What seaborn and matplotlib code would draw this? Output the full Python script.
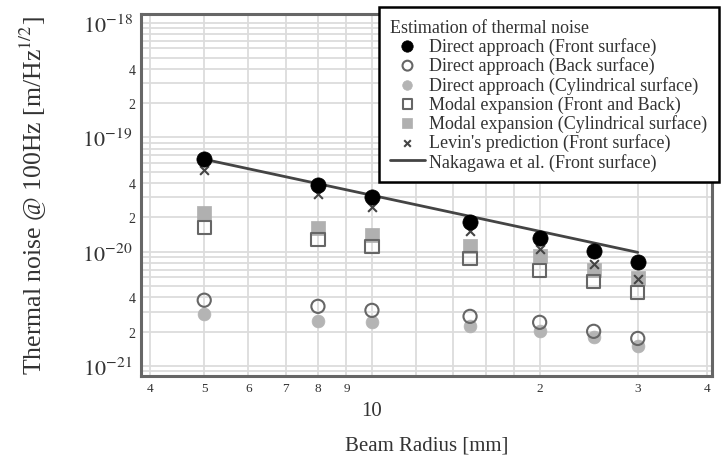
import matplotlib
matplotlib.use("Agg")
import matplotlib.pyplot as plt
import matplotlib.transforms as mtransforms
from matplotlib.ticker import FixedLocator, FuncFormatter, NullLocator
import numpy as np
import pandas as pd
import seaborn as sns

# ---- data ----
radius = [5, 8, 10, 15, 20, 25, 30]
direct_front = [6.45e-20, 3.83e-20, 3.0e-20, 1.82e-20, 1.32e-20, 1.01e-20, 8.1e-21]
direct_back = [3.78e-21, 3.34e-21, 3.08e-21, 2.73e-21, 2.42e-21, 2.02e-21, 1.75e-21]
direct_cyl = [2.85e-21, 2.47e-21, 2.42e-21, 2.23e-21, 2.02e-21, 1.79e-21, 1.49e-21]
modal_fb = [1.64e-20, 1.29e-20, 1.12e-20, 8.8e-21, 6.9e-21, 5.5e-21, 4.4e-21]
modal_cyl = [2.18e-20, 1.61e-20, 1.40e-20, 1.12e-20, 9.2e-21, 7.0e-21, 5.9e-21]
levin = [5.2e-20, 3.19e-20, 2.45e-20, 1.51e-20, 1.05e-20, 7.8e-21, 5.75e-21]
nakagawa_r = [5, 30]
nakagawa = [6.45e-20, 9.9e-21]

x_ticks = [4, 5, 6, 7, 8, 9, 10, 12, 14, 16, 18, 20, 30, 40]
x_tick_labels = ["4", "5", "6", "7", "8", "9", "", "", "", "", "", "2", "3", "4"]
y_major = [1e-21, 1e-20, 1e-19, 1e-18]
y_major_labels = [r"$10^{-21}$", r"$10^{-20}$", r"$10^{-19}$", r"$10^{-18}$"]

labels = [
    "Direct approach (Front surface)",
    "Direct approach (Back surface)",
    "Direct approach (Cylindrical surface)",
    "Modal expansion (Front and Back)",
    "Modal expansion (Cylindrical surface)",
    "Levin's prediction (Front surface)",
    "Nakagawa et al. (Front surface)",
]

sns.set_style("white")
plt.rcParams["font.family"] = ["Liberation Serif", "DejaVu Serif"]
plt.rcParams["mathtext.fontset"] = "stix"

fig = plt.figure(figsize=(7.23, 4.56), dpi=100)
ax = fig.add_axes([0.195, 0.173, 0.790, 0.794])
ax.set_xscale("log")
ax.set_yscale("log")

txt = "#333333"
# series
sns.scatterplot(x=radius, y=modal_cyl, ax=ax, marker="s", s=90, color="#b0b0b0",
                edgecolor="#b0b0b0", linewidth=0.5, label=labels[4], zorder=3, legend=False)
sns.scatterplot(x=radius, y=modal_fb, ax=ax, marker="s", s=90, facecolor="none",
                edgecolor="#666666", linewidth=1.5, label=labels[3], zorder=4, legend=False)
sns.scatterplot(x=radius, y=direct_cyl, ax=ax, marker="o", s=85, color="#b4b4b4",
                edgecolor="#b4b4b4", linewidth=0.5, label=labels[2], zorder=3, legend=False)
sns.scatterplot(x=radius, y=direct_back, ax=ax, marker="o", s=90, facecolor="none",
                edgecolor="#666666", linewidth=1.5, label=labels[1], zorder=4, legend=False)
sns.lineplot(x=nakagawa_r, y=nakagawa, ax=ax, color="#444444", linewidth=2.0,
             label=labels[6], zorder=4, legend=False)
sns.scatterplot(x=radius, y=levin, ax=ax, marker="x", s=40, color="#444444",
                linewidth=1.5, label=labels[5], zorder=5, legend=False)
sns.scatterplot(x=radius, y=direct_front, ax=ax, marker="o", s=120, color="black",
                edgecolor="black", linewidth=0.5, label=labels[0], zorder=6, legend=False)

ax.set_xlim(3.85, 40.8)
ax.set_ylim(8.2e-22, 1.2e-18)

# x ticks
ax.xaxis.set_major_locator(FixedLocator(x_ticks))
ax.set_xticklabels(x_tick_labels)
ax.xaxis.set_minor_locator(NullLocator())
trans = mtransforms.blended_transform_factory(ax.transData, ax.transAxes)
ax.text(10, -0.095, "10", transform=trans, ha="center", va="center", fontsize=15, color=txt)

# y ticks
ax.yaxis.set_major_locator(FixedLocator(y_major))
ax.set_yticklabels(y_major_labels)
minor = [m * 10.0 ** e for e in range(-22, -18) for m in range(2, 10)]
ax.yaxis.set_minor_locator(FixedLocator(minor))

def minor_fmt(v, pos):
    e = np.floor(np.log10(v) + 1e-9)
    m = int(round(v / 10 ** e))
    return str(m) if m in (2, 4) else ""

ax.yaxis.set_minor_formatter(FuncFormatter(minor_fmt))

ax.tick_params(axis="y", which="major", labelsize=16, direction="in", length=13,
               width=1.6, color="#555555", labelcolor=txt, pad=6)
ax.tick_params(axis="y", which="minor", labelsize=10, direction="in", length=8,
               width=1.6, color="#555555", labelcolor=txt, pad=4)
ax.tick_params(axis="x", which="major", labelsize=9.5, direction="in", length=6,
               width=1.6, color="#555555", labelcolor=txt, pad=4)

ax.grid(True, which="major", axis="x", color="#dcdcdc", linewidth=1.3)
ax.grid(True, which="both", axis="y", color="#dcdcdc", linewidth=1.3)
ax.set_axisbelow(True)

for sp in ax.spines.values():
    sp.set_color("#666666")
    sp.set_linewidth(2.2)

ax.set_xlabel("Beam Radius [mm]", fontsize=15, color=txt, labelpad=30)
ax.set_ylabel(r"Thermal noise @ 100Hz [m/Hz$^{1/2}$]", fontsize=18.5, color=txt)
ax.yaxis.set_label_coords(-0.161, 0.5)

# legend
handles, labs = ax.get_legend_handles_labels()
order = [labs.index(l) for l in labels]
leg = ax.legend([handles[i] for i in order], [labs[i] for i in order],
                title="Estimation of thermal noise", loc="upper right",
                bbox_to_anchor=(1.012, 1.0196), borderaxespad=0,
                fontsize=13, title_fontsize=13,
                frameon=True, fancybox=False, framealpha=1, edgecolor="black",
                markerscale=0.75, handlelength=1.9, handletextpad=0.25,
                labelspacing=0.08, borderpad=0.65, scatterpoints=1)
leg.get_frame().set_linewidth(1.8)
leg._legend_box.align = "left"
leg.set_zorder(10)
for t in leg.get_texts():
    t.set_color(txt)
leg.get_title().set_color(txt)

fig.savefig("out.png", dpi=100)
